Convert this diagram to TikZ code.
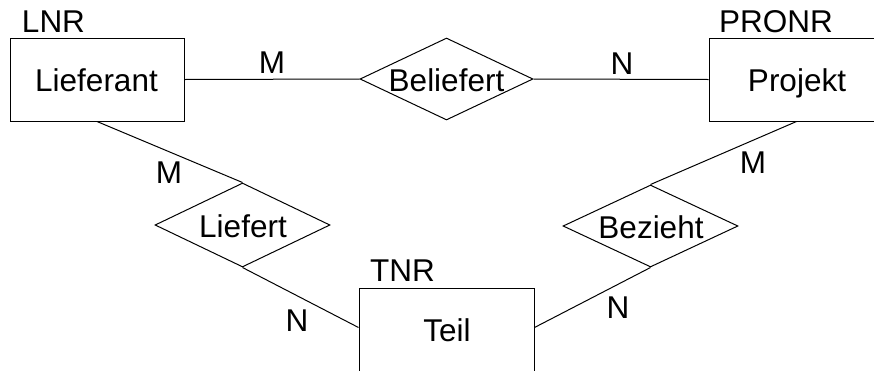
\documentclass[tikz,border=0pt]{standalone}
\usepackage{fontspec}
\setmainfont{Liberation Sans}
\usetikzlibrary{shapes.geometric}
\begin{document}
\begin{tikzpicture}[x=1pt,y=-1pt,line width=1pt,
  entity/.style={draw,rectangle,inner sep=0pt},
  rel/.style={draw,diamond,inner sep=0pt},
  txt/.style={anchor=base,inner sep=0pt,font=\fontsize{31.5}{36}\selectfont}]
\useasboundingbox (0,0) rectangle (874,370);
\clip (0,0) rectangle (874,370);
% entities
\node[entity,minimum width=174pt,minimum height=83pt] (lief) at (97,79.5) {};
\node[entity,minimum width=191pt,minimum height=83pt] (proj) at (804.5,79.5) {};
\node[entity,minimum width=175pt,minimum height=112pt] (teil) at (446.5,344) {};
% relationships
\node[rel,minimum width=173pt,minimum height=82pt] (bel) at (446.5,79) {};
\node[rel,minimum width=175pt,minimum height=84pt] (lfr) at (242.5,225) {};
\node[rel,minimum width=175pt,minimum height=82pt] (bez) at (650.5,226) {};
% texts
\node[txt] (tlief) at (96.5,91) {Lieferant};
\node[txt] (tlnr) at (53.5,32) {LNR};
\node[txt] (tproj) at (797,91) {Projekt};
\node[txt] (tpronr) at (776,32) {PRONR};
\node[txt] (tteil) at (447,341) {Teil};
\node[txt] (ttnr) at (402.5,281) {TNR};
\node[txt] (tbel) at (446.5,91) {Beliefert};
\node[txt] (tlfr) at (243,237) {Liefert};
\node[txt] (tbez) at (651,238) {Bezieht};
% cardinalities
\node[txt] (c1) at (272,73) {M};
\node[txt] (c2) at (622,74) {N};
\node[txt] (c3) at (169,183) {M};
\node[txt] (c4) at (297,331) {N};
\node[txt] (c5) at (618,318) {N};
\node[txt] (c6) at (753,173) {M};
% connectors
\draw (lief.east) -- (bel.west);
\draw (bel.east) -- (proj.west);
\draw (lief.south) -- (lfr.north);
\draw (lfr.south) -- ([yshift=-40pt]teil.north west);
\draw ([yshift=-40pt]teil.north east) -- (bez.south);
\draw (bez.north) -- ([xshift=88pt]proj.south west);
\end{tikzpicture}
\end{document}
